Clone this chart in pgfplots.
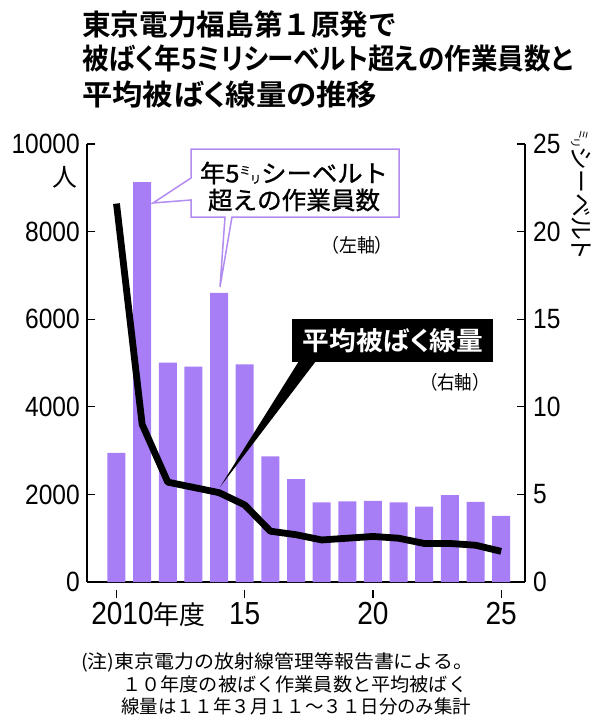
\documentclass[border=0pt]{standalone}
\usepackage{fontspec}
\usepackage{graphicx}
\usepackage{pgfplots}
\pgfplotsset{compat=1.18}
\setmainfont{Noto Sans CJK JP}[BoldFont={Noto Sans CJK JP Bold}]
\newfontfamily\jpp{Noto Sans CJK JP}[RawFeature=+palt, BoldFont={Noto Sans CJK JP Bold}]
\newfontfamily\jpm{Noto Sans CJK JP}[FakeBold=1]
\newfontfamily\numfont{Liberation Sans}[FakeStretch=0.88]
\definecolor{barpurple}{RGB}{168,126,246}
\definecolor{boxpurple}{RGB}{178,140,240}
\begin{document}
\begin{tikzpicture}
\useasboundingbox (0,0) rectangle (600bp,-723bp);
% ---------- left axis: bars ----------
\begin{axis}[
  at={(87bp,-582bp)}, anchor=south west,
  scale only axis, width=438bp, height=438bp,
  xmin=2008.85, xmax=2025.93, ymin=0, ymax=10000,
  axis x line*=bottom, axis y line*=left,
  axis line style={-, line width=1.2bp, black},
  xtick={2010,2015,2020,2025},
  xticklabels={{\makebox[0pt][c]{\hspace{12bp}2010\rlap{\fontsize{26}{26}\selectfont\jpp 年度}}},15,20,25},
  ytick={0,2000,4000,6000,8000,10000},
  yticklabels={0,2000,4000,6000,8000,10000},
  scaled y ticks=false,
  tick align=inside,
  major tick length=8bp,
  tick style={line width=1.2bp, black},
  x tick style={yshift=-8bp},
  xticklabel style={font=\fontsize{32}{32}\selectfont\numfont, inner sep=0pt, anchor=north, yshift=-12bp},
  yticklabel style={font=\fontsize{28}{28}\selectfont\numfont, inner sep=0pt, anchor=east, xshift=-7bp},
  /pgf/number format/assume math mode=true,
  ybar, bar width=18bp,
]
\addplot[fill=barpurple, draw=none] coordinates {
(2010,2950) (2011,9130) (2012,5010) (2013,4920) (2014,6600) (2015,4970)
(2016,2870) (2017,2350) (2018,1820) (2019,1840) (2020,1850) (2021,1820)
(2022,1720) (2023,1985) (2024,1830) (2025,1510)};
\end{axis}
% ---------- right axis: line ----------
\begin{axis}[
  at={(87bp,-582bp)}, anchor=south west,
  scale only axis, width=438bp, height=438bp,
  xmin=2008.85, xmax=2025.93, ymin=0, ymax=25,
  axis x line=none, axis y line*=right,
  axis line style={-, line width=1.2bp, black},
  ytick={0,5,10,15,20,25},
  yticklabels={0,5,10,15,20,25},
  scaled y ticks=false,
  tick align=inside,
  major tick length=8bp,
  tick style={line width=1.2bp, black},
  yticklabel style={font=\fontsize{28}{28}\selectfont\numfont, inner sep=0pt, anchor=west, xshift=8bp},
  /pgf/number format/assume math mode=true,
]
\addplot[black, line width=6.8bp, line join=round, line cap=butt] coordinates {
(2010,21.6) (2011,9.0) (2012,5.7) (2013,5.4) (2014,5.1) (2015,4.4)
(2016,2.9) (2017,2.7) (2018,2.4) (2019,2.5) (2020,2.6) (2021,2.5)
(2022,2.2) (2023,2.2) (2024,2.1) (2025,1.75)};
\end{axis}
% ---------- annotations ----------
\begin{scope}[x=1bp, y=-1bp]
% title
\node[anchor=base west, inner sep=0pt, font=\fontsize{29}{29}\selectfont\bfseries] at (82,35) {\resizebox{315bp}{\height}{東京電力福島第１原発で}};
\node[anchor=base west, inner sep=0pt, font=\fontsize{29}{29}\selectfont\jpp\bfseries] at (82,70) {\resizebox{491bp}{\height}{被ばく年5ミリシーベルト超えの作業員数と}};
\node[anchor=base west, inner sep=0pt, font=\fontsize{29}{29}\selectfont\jpp\bfseries] at (82,106) {\resizebox{295bp}{\height}{平均被ばく線量の推移}};
% axis unit labels
\node[inner sep=0pt, font=\fontsize{25}{25}\selectfont] at (65,177) {人};
\node[rotate=-90, anchor=west, inner sep=0pt, font=\fontsize{24}{24}\selectfont\jpp] at (581,130)
  {{\fontsize{11}{11}\selectfont\raisebox{7bp}{ミ}\kern-1bp\raisebox{-1bp}{リ}}シーベルト};
% callout for bars
\draw[boxpurple, line width=1.5bp, fill=white, line join=miter]
  (191,149) -- (399,149) -- (399,217) -- (232,217) -- (220,287) -- (225,217)
  -- (191,217) -- (191,200) -- (153,203) -- (191,178) -- cycle;
\node[inner sep=0pt, font=\fontsize{24.5}{24.5}\selectfont\jpm] at (294,173)
  {\resizebox{188bp}{\height}{年5{\fontsize{11}{11}\selectfont\raisebox{8bp}{ミ}\kern-1bp\raisebox{-1bp}{リ}}シーベルト}};
\node[inner sep=0pt, font=\fontsize{24.5}{24.5}\selectfont\jpm] at (294,200) {\resizebox{172bp}{\height}{超えの作業員数}};
\node[inner sep=0pt, font=\fontsize{19}{19}\selectfont] at (357,245) {\resizebox{72bp}{\height}{（左軸）}};
% callout for line
\fill[black] (292,319) rectangle (493,362);
\fill[black] (299,361) -- (220,487) -- (316,361) -- cycle;
\node[inner sep=0pt, text=white, font=\fontsize{26}{26}\selectfont\jpp\bfseries] at (393,341) {\resizebox{180bp}{\height}{平均被ばく線量}};
\node[inner sep=0pt, font=\fontsize{19}{19}\selectfont] at (455,382) {\resizebox{70bp}{\height}{（右軸）}};
% notes
\node[anchor=base west, inner sep=0pt, font=\fontsize{18.8}{18.8}\selectfont] at (81,668) {\resizebox{392bp}{\height}{(注)東京電力の放射線管理等報告書による。}};
\node[anchor=base west, inner sep=0pt, font=\fontsize{18.8}{18.8}\selectfont] at (122,691) {\resizebox{345bp}{\height}{１０年度の被ばく作業員数と平均被ばく}};
\node[anchor=base west, inner sep=0pt, font=\fontsize{18.8}{18.8}\selectfont] at (121,713) {\resizebox{350bp}{\height}{線量は１１年３月１１～３１日分のみ集計}};
\end{scope}
\end{tikzpicture}
\end{document}
